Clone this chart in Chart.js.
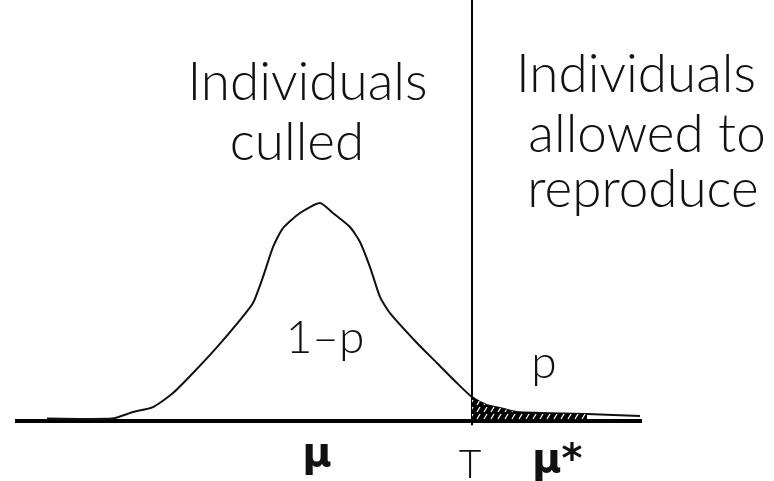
<!DOCTYPE html>
<html>
<head>
<meta charset="utf-8">
<script src="https://cdn.jsdelivr.net/npm/chart.js@4"></script>
<style>
  html, body { margin: 0; padding: 0; background: #fff; }
  #wrap { width: 774px; height: 481px; position: relative; }
</style>
</head>
<body>
<div id="wrap"><canvas id="selection_chart"></canvas></div>
<script>
// trait value (mean = 0) and relative frequency
const curveX = [-5.46, -4.16, -3.74, -3.34, -2.94, -2.54, -2.06, -1.60, -1.34, -1.14, -0.94, -0.74, -0.40, 0.00,
  0.26, 0.60, 0.80, 1.00, 1.20, 1.40, 1.94, 2.34, 2.74, 3.04, 3.34, 3.60, 3.94, 4.40, 5.34, 6.40];
const curveY = [0.011, 0.011, 0.041, 0.064, 0.128, 0.220, 0.339, 0.463, 0.541, 0.661, 0.798, 0.885, 0.954, 1.000,
  0.954, 0.890, 0.821, 0.706, 0.569, 0.495, 0.358, 0.266, 0.174, 0.110, 0.073, 0.060, 0.041, 0.037, 0.032, 0.023];

const threshold = 3.04;      // T
const shadeEnd = 5.34;       // end of hatched tail
const axisRange = [-6.1, 6.44];

const leftLines = ["Individuals", "culled"];
const rightLines = ["Individuals", "allowed to", "reproduce"];
const areaLabels = ["1\u2013p", "p"];
const tickLabels = ["\u03bc", "T", "\u03bc*"];

(function () {
  const points = curveX.map((x, i) => ({ x, y: curveY[i] }));
  const tail = points.filter((p) => p.x >= threshold && p.x <= shadeEnd);

  function makeHatch() {
    const c = document.createElement("canvas");
    c.width = 7;
    c.height = 7;
    const g = c.getContext("2d");
    g.fillStyle = "#000";
    g.fillRect(0, 0, 7, 7);
    g.strokeStyle = "#fff";
    g.lineWidth = 1.3;
    g.beginPath();
    g.moveTo(1, 6);
    g.lineTo(4, 1);
    g.stroke();
    return g.createPattern(c, "repeat");
  }

  const textFont = "300 53px Lato, 'Liberation Sans', sans-serif";
  const smallFont = "300 46px Lato, 'Liberation Sans', sans-serif";

  const labelsPlugin = {
    id: "labels",
    afterDatasetsDraw(chart) {
      const { ctx, scales } = chart;
      const px = (v) => scales.x.getPixelForValue(v);
      const py = (v) => scales.y.getPixelForValue(v);
      function put(text, x, y, font, align) {
        ctx.font = font;
        ctx.textAlign = align || "center";
        ctx.textBaseline = "alphabetic";
        ctx.fillText(text, px(x), py(y));
      }
      ctx.save();
      ctx.fillStyle = "#111";
      put(leftLines[0], -0.25, 1.472, textFont);
      put(leftLines[1], -0.46, 1.197, textFont);
      put(rightLines[0], 6.32, 1.509, textFont);
      put(rightLines[1], 6.54, 1.234, textFont);
      put(rightLines[2], 6.46, 0.982, textFont);
      put(areaLabels[0], 0.10, 0.312, smallFont);
      put(areaLabels[1], 4.48, 0.197, smallFont);
      put(tickLabels[0], -0.06, -0.206, "bold 40px 'DejaVu Sans', sans-serif");
      put(tickLabels[1], 3.0, -0.261, "300 39px Lato, 'Liberation Sans', sans-serif");
      put(tickLabels[2], 4.24, -0.234, "bold 40px 'DejaVu Sans', sans-serif", "left");
      ctx.restore();
    },
  };

  new Chart(document.getElementById("selection_chart"), {
    type: "line",
    data: {
      datasets: [
        {
          label: "selected tail",
          data: tail,
          fill: "origin",
          backgroundColor: makeHatch(),
          borderWidth: 0,
          pointRadius: 0,
          tension: 0.2,
        },
        {
          label: "distribution",
          data: points,
          borderColor: "#111",
          borderWidth: 2,
          fill: false,
          pointRadius: 0,
          tension: 0.2,
        },
        {
          label: "axis",
          data: axisRange.map((x) => ({ x, y: 0 })),
          borderColor: "#000",
          borderWidth: 4,
          pointRadius: 0,
        },
        {
          label: "threshold",
          data: [{ x: threshold, y: -0.02 }, { x: threshold, y: 2.0 }],
          borderColor: "#000",
          borderWidth: 2,
          pointRadius: 0,
        },
      ],
    },
    options: {
      responsive: true,
      maintainAspectRatio: false,
      animation: false,
      layout: { padding: 0 },
      plugins: {
        legend: { display: false },
        tooltip: { enabled: false },
      },
      scales: {
        x: { type: "linear", display: false, min: -6.4, max: 9.08 },
        y: { type: "linear", display: false, min: -0.2752, max: 1.9312 },
      },
    },
    plugins: [labelsPlugin],
  });
})();
</script>
</body>
</html>
